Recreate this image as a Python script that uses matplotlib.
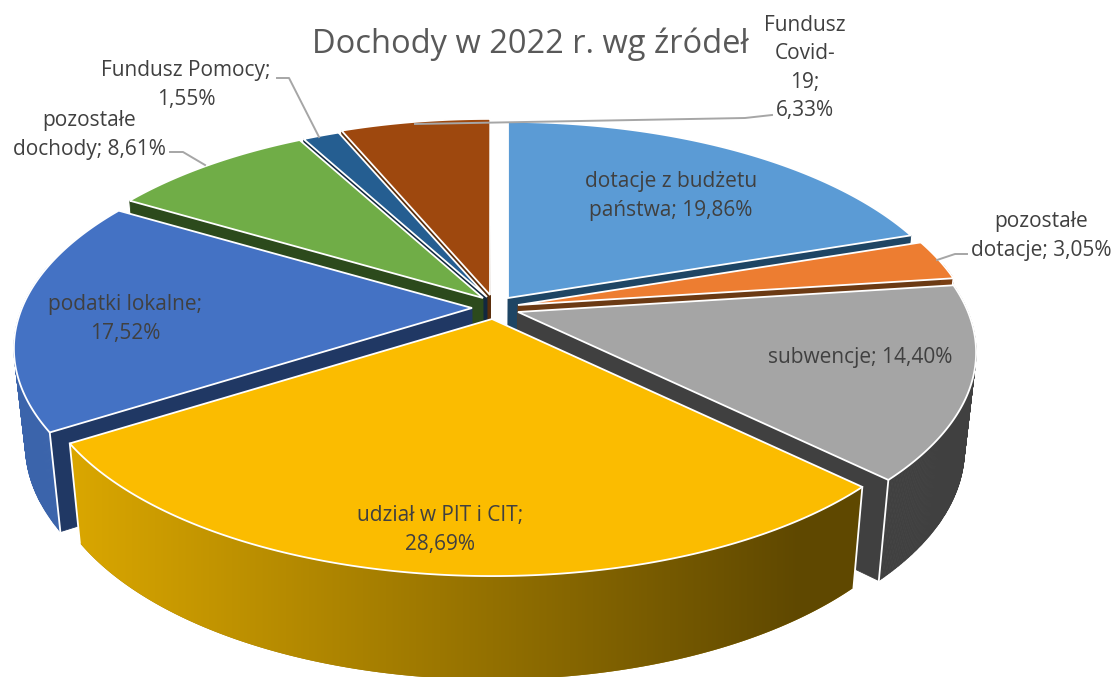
import numpy as np
import matplotlib
matplotlib.use('Agg')
import matplotlib.pyplot as plt
from matplotlib.colors import to_rgb

plt.rcParams['font.family'] = ['Open Sans', 'DejaVu Sans']

# dane
nazwy = ['dotacje z budżetu\npaństwa', 'pozostałe\ndotacje', 'subwencje', 'udział w PIT i CIT',
         'podatki lokalne', 'pozostałe\ndochody', 'Fundusz Pomocy', 'Fundusz\nCovid-\n19']
wartosci = [19.86, 3.05, 14.40, 28.69, 17.52, 8.61, 1.55, 6.33]
separatory = [' ', ' ', ' ', '\n', '\n', ' ', '\n', '\n']

# wyglad
gora = ['#5B9BD5', '#ED7D31', '#A5A5A5', '#FBBC00', '#4472C4', '#70AD47', '#255E91', '#9E480E']
bok = ['#4A7DAC', '#7A3F14', '#404040', '#A07A00', '#3B64AB', '#5A8A38', '#1D4A72', '#7A380B']
ciecie = ['#1E4564', '#6B3A14', '#404040', '#404040', '#203864', '#2C4A1C', '#12283F', '#5A2E0C']
center = (492, 305)
explode = [(16, -7), (26, 0), (26, 7), (0, 14), (-20, 3), (-9, -7), (-5, -8), (-2, -10)]
kolejnosc = [7, 6, 5, 4, 0, 1, 2, 3]
pozycje = [(671, 196), (1041, 236), (860, 357), (440, 530), (125, 319), (89, 135), (186, 85), (805, 68)]
kolor_tekstu = '#404040'
# gradient sciany zoltego wycinka
grad_lewy, grad_prawy, grad_x0, grad_x1 = '#D9A600', '#5F4800', 78, 800

RX, RY, P = 450, 209, 0.187

fig = plt.figure(figsize=(11.17, 6.77), dpi=100)
ax = fig.add_axes([0, 0, 1, 1])


def arc(t):
    w = 1 + P * np.cos(t)
    return RX * np.sin(t) / w, -RY * np.cos(t) / w


def down(x, y):
    # dolna krawedz sciany
    return center[0] + (x - center[0]) * 0.976, y + 100 + 0.03 * (y - 460)


granice = np.radians(np.concatenate([[0], np.cumsum(wartosci)]) / 100 * 360)
z = 1
for i in kolejnosc:
    a0, a1 = granice[i], granice[i + 1]
    tx, ty = center[0] + explode[i][0], center[1] + explode[i][1]
    t = np.linspace(a0, a1, 160)
    dx, dy = arc(t)
    xs, ys = tx + dx, ty + dy
    bx, by = down(xs, ys)
    btx, bty = down(tx, ty)

    # sciany ciecia, tylko te widoczne
    for k, widoczna in ((0, np.sin(a0) < 0), (-1, np.sin(a1) > 0)):
        if widoczna:
            ax.fill([tx, xs[k], bx[k], btx], [ty, ys[k], by[k], bty], color=ciecie[i], lw=0.6, zorder=z)
    # sciana zewnetrzna
    if i == 3:
        # zolty wycinek z gradientem, bez zalaman konturu
        poly = ax.fill(np.r_[xs, bx[::-1]], np.r_[ys, by[::-1]], color=bok[i], lw=0, zorder=z)[0]
        f = np.clip((np.arange(1117) - grad_x0) / (grad_x1 - grad_x0), 0, 1)[None, :, None]
        img = np.array(to_rgb(grad_lewy))[None, None, :] * (1 - f) + np.array(to_rgb(grad_prawy))[None, None, :] * f
        im = ax.imshow(img, extent=(0, 1117, 677, 0), aspect='auto', zorder=z)
        im.set_clip_path(poly)
    else:
        for k in range(len(t) - 1):
            if np.cos(t[k]) < 0.2:
                ax.fill([xs[k], xs[k + 1], bx[k + 1], bx[k]], [ys[k], ys[k + 1], by[k + 1], by[k]],
                        color=bok[i], lw=0.6, zorder=z)
    z += 1
    # pionowe krawedzie
    for k in (0, -1):
        if np.cos(t[k]) < 0.2:
            ax.plot([xs[k], bx[k]], [ys[k], by[k]], color='white', lw=1.3, zorder=z)
    z += 1
    # wierzch
    ax.fill(np.r_[tx, xs], np.r_[ty, ys], facecolor=gora[i], edgecolor='white', lw=1.3,
            joinstyle='miter', zorder=z)
    z += 1

# linie odniesienia
linie = [([277, 289, 319], [78, 78, 137]),
         ([170, 183, 205], [152, 152, 165]),
         ([967, 955, 937], [254, 254, 260]),
         ([772, 745, 415], [115, 118, 124])]
for lx, ly in linie:
    ax.plot(lx, ly, color='#A6A6A6', lw=1.4, zorder=z)
z += 1

for n, v, s, (x, y) in zip(nazwy, wartosci, separatory, pozycje):
    etykieta = n + ';' + s + f'{v:.2f}'.replace('.', ',') + '%'
    ax.text(x, y, etykieta, ha='center', va='center', fontsize=15, color=kolor_tekstu,
            linespacing=1.45, zorder=z)

ax.text(530, 44, 'Dochody w 2022 r. wg źródeł', ha='center', va='center', fontsize=23.5,
        color='#595959', zorder=z)

ax.set_xlim(0, 1117)
ax.set_ylim(677, 0)
ax.axis('off')

fig.savefig('out.png', dpi=100)
